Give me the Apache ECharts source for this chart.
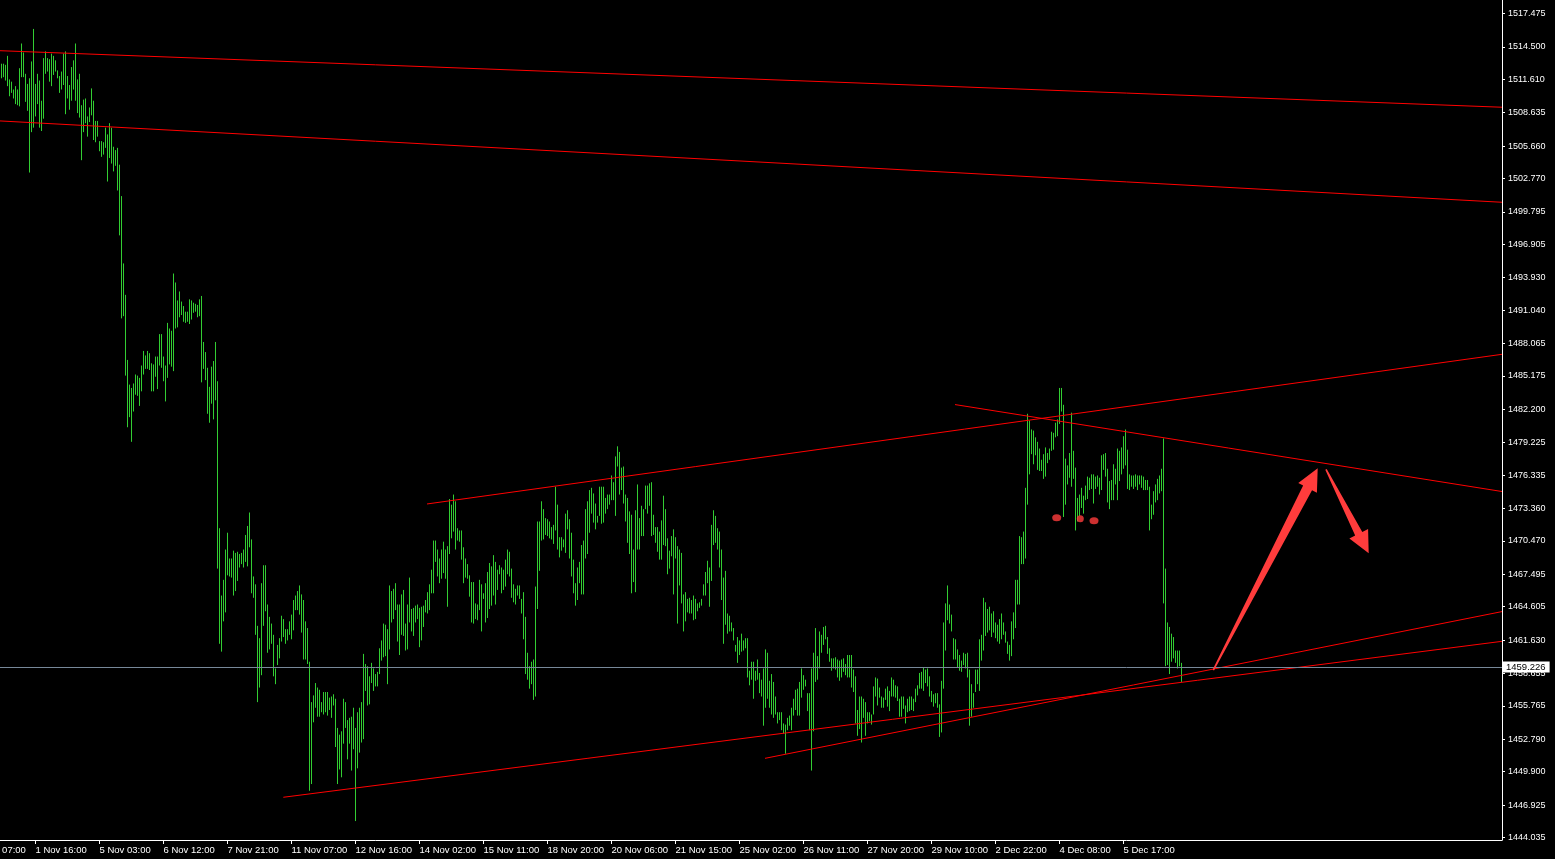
<!DOCTYPE html>
<html><head><meta charset="utf-8">
<style>html,body{margin:0;padding:0;background:#000;}#chart{width:1555px;height:859px;}</style>
<script src="https://cdn.jsdelivr.net/npm/echarts@6/dist/echarts.min.js"></script>
</head><body><div id="chart"></div>
<script>
// XAUUSD H1 bars: high / low per bar (bar index 0 = first visible bar)
const highs = [
1513.0,1513.0,1512.9,1513.7,1511.6,1511.4,1510.7,1511.0,1510.7,1512.6,
1514.8,1514.0,1512.1,1511.2,1511.7,1513.2,1516.1,1511.2,1512.1,1511.5,
1509.7,1513.5,1514.1,1513.5,1513.4,1513.9,1513.7,1513.3,1512.4,1511.9,
1512.3,1513.9,1514.1,1511.9,1511.1,1512.7,1513.3,1514.8,1511.6,1512.1,
1509.3,1509.8,1509.9,1508.3,1509.1,1510.8,1509.7,1507.9,1507.9,1506.1,
1506.1,1506.0,1507.3,1506.7,1507.7,1507.3,1505.6,1505.3,1505.5,1504.0,
1501.2,1495.2,1492.4,1486.6,1484.4,1484.1,1484.5,1485.3,1485.2,1485.0,
1486.1,1487.4,1487.0,1487.4,1487.2,1486.3,1486.2,1486.9,1486.9,1488.9,
1488.9,1486.9,1486.1,1489.9,1489.4,1489.2,1494.3,1493.5,1491.9,1492.7,
1491.8,1491.4,1490.9,1490.9,1492.0,1491.9,1491.7,1491.6,1491.5,1492.0,
1492.3,1488.2,1487.3,1485.9,1484.2,1486.0,1486.5,1488.2,1484.7,1471.6,
1465.6,1467.0,1469.7,1471.2,1468.9,1468.9,1469.6,1469.4,1469.5,1469.3,
1469.4,1469.7,1471.0,1471.8,1473.0,1470.6,1467.3,1466.6,1462.9,1461.8,
1466.7,1468.3,1468.3,1464.8,1463.7,1463.1,1462.1,1459.1,1461.2,1461.8,
1463.8,1463.5,1462.6,1462.6,1463.3,1463.9,1465.2,1465.6,1466.0,1466.5,
1465.7,1465.2,1463.3,1462.7,1459.7,1456.1,1456.7,1457.8,1457.4,1457.2,
1456.1,1457.0,1457.0,1457.0,1456.5,1456.6,1456.8,1456.4,1453.8,1453.2,
1453.5,1456.4,1456.1,1454.5,1454.7,1454.8,1455.6,1453.8,1455.2,1455.6,
1456.1,1460.4,1459.5,1459.3,1458.4,1459.6,1459.1,1458.6,1458.8,1460.9,
1461.6,1463.1,1463.0,1462.6,1466.5,1466.0,1466.2,1466.7,1464.8,1464.8,
1465.7,1466.1,1463.1,1464.8,1467.2,1464.4,1464.5,1464.7,1464.8,1464.5,
1464.6,1464.7,1465.2,1465.9,1466.6,1467.9,1470.5,1470.5,1469.7,1468.9,
1469.7,1470.4,1469.7,1470.0,1474.2,1473.7,1474.6,1474.0,1471.6,1471.4,
1471.4,1469.9,1468.9,1468.4,1467.4,1466.8,1466.8,1464.9,1464.8,1467.0,
1466.6,1465.8,1466.7,1467.7,1468.5,1468.2,1469.2,1468.6,1467.9,1468.3,
1468.1,1467.9,1468.8,1469.7,1469.5,1468.0,1466.6,1466.2,1466.5,1466.5,
1465.3,1465.9,1463.7,1460.5,1459.3,1459.7,1459.9,1466.4,1472.2,1472.2,
1474.0,1473.3,1472.5,1472.4,1472.2,1471.7,1471.9,1475.3,1473.7,1470.8,
1470.8,1470.6,1472.9,1473.2,1472.4,1471.2,1468.8,1466.7,1468.1,1468.6,
1470.1,1470.5,1473.3,1474.0,1475.0,1475.2,1474.7,1473.8,1472.7,1475.3,
1475.3,1475.3,1474.3,1474.6,1474.6,1476.3,1475.7,1478.0,1478.9,1478.4,
1477.0,1477.1,1474.6,1474.3,1473.1,1472.8,1469.7,1473.2,1475.5,1472.5,
1473.6,1473.3,1475.4,1475.4,1475.6,1475.7,1472.8,1471.7,1471.7,1471.3,
1472.3,1474.5,1473.3,1470.7,1469.6,1470.9,1471.5,1470.8,1470.0,1469.7,
1469.4,1465.7,1465.9,1465.3,1465.4,1465.2,1465.6,1465.3,1464.9,1465.0,
1465.3,1466.6,1467.7,1468.7,1468.1,1471.9,1473.2,1472.7,1471.6,1471.3,
1469.7,1467.2,1467.8,1464.0,1463.8,1463.2,1462.7,1461.2,1461.9,1461.6,
1462.2,1461.6,1461.8,1461.8,1458.9,1459.7,1459.7,1458.9,1459.9,1458.7,
1458.1,1459.1,1460.8,1460.5,1458.0,1458.6,1457.9,1456.6,1455.2,1455.2,
1455.2,1454.2,1454.1,1454.7,1454.9,1455.6,1456.4,1457.2,1457.3,1457.9,
1459.1,1458.5,1458.1,1456.9,1456.9,1459.1,1460.5,1462.7,1460.2,1462.4,
1462.1,1462.8,1462.9,1461.9,1460.9,1460.0,1460.0,1460.1,1459.9,1459.8,
1459.9,1460.0,1459.5,1460.3,1460.3,1460.3,1459.0,1458.4,1455.4,1456.6,
1456.6,1456.4,1456.1,1455.2,1455.2,1455.0,1457.5,1458.3,1458.2,1457.4,
1456.6,1456.5,1457.3,1457.5,1457.1,1458.3,1458.1,1457.6,1457.5,1456.4,
1456.6,1456.6,1455.8,1456.4,1456.6,1456.6,1456.4,1457.3,1457.6,1458.7,
1458.8,1459.2,1459.0,1459.1,1458.4,1457.1,1456.8,1456.9,1456.9,1455.9,
1458.0,1463.2,1464.9,1466.5,1464.8,1463.9,1461.8,1461.7,1460.8,1460.3,
1459.8,1460.5,1460.4,1460.5,1459.0,1457.7,1456.9,1459.0,1459.0,1461.7,
1462.1,1465.4,1465.0,1464.4,1464.6,1464.0,1464.2,1463.2,1463.0,1463.5,
1464.0,1463.2,1462.4,1461.5,1461.2,1463.3,1464.1,1467.0,1467.0,1470.9,
1470.8,1471.3,1475.2,1481.8,1481.2,1480.4,1480.3,1479.7,1479.3,1478.7,
1477.7,1478.2,1478.8,1478.3,1478.7,1480.2,1480.1,1481.0,1481.3,1484.1,
1484.1,1482.6,1477.8,1477.2,1478.3,1481.9,1478.5,1477.0,1474.3,1474.6,
1475.2,1474.5,1475.4,1476.2,1476.1,1476.4,1476.4,1476.2,1476.3,1476.1,
1478.1,1478.2,1478.3,1476.9,1475.8,1475.9,1477.3,1476.9,1478.7,1478.5,
1478.8,1479.8,1480.4,1478.6,1476.4,1476.3,1476.3,1476.4,1476.3,1476.3,
1476.3,1476.2,1475.9,1475.9,1475.3,1473.7,1474.9,1475.5,1476.0,1476.3,
1476.9,1479.6,1468.0,1463.2,1462.8,1462.2,1461.9,1460.7,1460.7,1460.7,
1459.6
];
const lows = [
1511.7,1511.8,1511.5,1511.0,1510.1,1510.4,1509.9,1509.4,1509.3,1509.2,
1511.8,1511.8,1509.6,1508.8,1503.3,1506.9,1507.3,1508.3,1509.4,1507.3,
1507.0,1508.1,1512.1,1512.3,1511.4,1511.0,1512.0,1512.3,1511.7,1510.4,
1510.7,1511.1,1508.5,1509.9,1508.9,1509.7,1510.7,1509.7,1508.6,1508.2,
1504.4,1506.9,1507.7,1506.5,1507.8,1508.4,1506.2,1506.0,1506.5,1505.2,
1504.7,1504.9,1505.5,1502.5,1504.6,1504.1,1503.4,1503.9,1501.7,1497.7,
1490.3,1490.5,1485.2,1480.6,1481.5,1479.3,1482.0,1483.5,1483.4,1482.5,
1483.8,1485.3,1485.8,1485.8,1485.7,1483.8,1483.8,1485.1,1484.0,1486.1,
1485.9,1484.7,1482.9,1485.0,1486.2,1486.0,1485.6,1489.4,1489.5,1490.4,
1490.6,1490.0,1489.9,1490.0,1489.8,1490.2,1490.8,1490.9,1490.4,1490.5,
1484.6,1485.8,1484.8,1481.8,1481.0,1482.7,1481.3,1483.0,1468.0,1461.3,
1460.6,1463.3,1464.1,1467.4,1467.3,1467.2,1465.6,1466.0,1466.9,1468.1,
1468.4,1468.1,1468.6,1468.2,1469.9,1465.8,1465.4,1462.1,1456.1,1457.4,
1458.5,1462.9,1464.2,1460.5,1460.8,1461.3,1458.4,1457.7,1459.4,1460.0,
1461.5,1461.9,1461.3,1461.6,1462.1,1461.7,1462.5,1464.3,1464.3,1463.9,
1462.3,1459.9,1459.9,1459.5,1448.2,1448.8,1454.3,1455.6,1454.8,1454.8,
1455.2,1455.0,1455.2,1454.9,1455.4,1454.7,1455.8,1452.1,1448.8,1450.1,
1449.4,1452.4,1453.8,1451.0,1452.4,1450.0,1451.9,1445.5,1450.2,1451.6,
1452.5,1452.8,1457.1,1455.8,1455.9,1457.8,1457.1,1457.5,1457.5,1458.6,
1459.8,1460.1,1460.2,1457.7,1460.8,1463.2,1463.5,1464.3,1461.5,1460.3,
1462.1,1462.0,1460.7,1460.8,1463.2,1462.4,1462.0,1463.2,1463.5,1461.0,
1461.6,1462.8,1464.1,1464.0,1464.3,1465.8,1465.8,1468.6,1467.3,1466.7,
1467.1,1467.6,1467.1,1464.6,1469.3,1470.7,1471.3,1469.7,1470.5,1470.4,
1468.8,1466.7,1467.2,1467.1,1465.5,1463.2,1463.1,1463.5,1463.4,1464.3,
1462.4,1465.3,1463.2,1463.6,1464.4,1464.7,1465.6,1464.8,1466.1,1467.5,
1465.8,1466.1,1466.4,1467.5,1467.3,1465.4,1465.0,1464.8,1465.6,1465.3,
1464.0,1461.7,1458.6,1458.1,1457.3,1457.7,1456.3,1456.6,1464.4,1467.8,
1470.5,1470.6,1471.0,1470.9,1470.7,1470.6,1470.2,1471.4,1469.7,1469.0,
1469.6,1469.9,1469.4,1471.5,1468.9,1467.3,1465.8,1464.7,1465.2,1466.7,
1465.7,1465.7,1468.9,1469.3,1471.2,1472.9,1472.1,1471.5,1472.1,1472.7,
1472.0,1472.1,1472.9,1473.3,1473.7,1474.1,1474.1,1472.7,1477.1,1474.6,
1475.0,1473.8,1472.2,1470.3,1469.3,1465.8,1466.8,1465.9,1469.7,1469.7,
1470.9,1470.9,1473.3,1472.9,1473.6,1470.9,1471.0,1470.3,1469.5,1468.8,
1468.8,1470.1,1470.0,1467.5,1468.0,1469.1,1465.7,1468.9,1463.1,1466.5,
1464.9,1462.4,1463.3,1464.1,1464.0,1464.0,1463.4,1463.5,1464.2,1464.5,
1464.7,1465.6,1465.6,1466.7,1464.6,1466.9,1470.1,1470.3,1469.7,1468.1,
1465.2,1461.3,1463.0,1462.2,1462.4,1462.4,1461.6,1460.6,1459.6,1460.3,
1460.6,1460.7,1460.9,1458.3,1457.6,1458.1,1456.4,1458.0,1458.1,1456.9,
1456.6,1454.0,1455.6,1456.4,1455.6,1455.0,1454.7,1455.0,1454.2,1454.5,
1453.6,1453.3,1451.5,1453.6,1454.0,1453.6,1454.9,1455.4,1454.9,1454.9,
1456.5,1457.2,1457.5,1455.3,1453.6,1450.0,1453.5,1457.9,1458.1,1459.1,
1460.5,1461.2,1461.7,1460.4,1459.7,1458.9,1459.1,1459.0,1458.3,1458.0,
1458.3,1458.8,1458.5,1458.3,1458.3,1457.4,1457.0,1454.2,1453.1,1453.7,
1452.5,1454.7,1453.1,1454.2,1454.4,1454.1,1455.0,1456.6,1455.8,1456.5,
1455.6,1455.6,1456.3,1455.7,1455.3,1456.6,1456.6,1456.5,1456.2,1454.8,
1454.8,1455.5,1454.2,1455.2,1455.3,1455.4,1455.3,1456.1,1456.7,1457.3,
1457.3,1457.1,1457.8,1457.5,1456.6,1456.1,1455.7,1456.0,1455.6,1453.0,
1453.4,1457.3,1460.7,1463.4,1463.1,1462.4,1459.9,1459.9,1459.2,1458.9,
1458.8,1459.4,1459.1,1458.3,1454.0,1454.8,1455.6,1457.0,1457.7,1457.1,
1459.8,1460.7,1462.0,1462.3,1462.5,1461.9,1462.3,1461.8,1461.5,1461.3,
1461.7,1462.1,1461.4,1460.4,1459.8,1460.2,1461.7,1462.7,1464.8,1464.8,
1468.4,1468.4,1468.9,1473.7,1476.4,1478.2,1477.3,1478.1,1476.8,1476.7,
1476.7,1476.0,1476.2,1477.4,1477.7,1478.5,1478.6,1479.7,1479.8,1480.9,
1482.0,1472.6,1473.7,1475.5,1476.1,1475.3,1476.0,1471.4,1472.2,1472.7,
1473.4,1472.9,1474.1,1474.2,1475.0,1475.1,1473.8,1475.1,1475.3,1474.6,
1475.0,1476.8,1476.2,1473.9,1473.3,1474.1,1474.1,1475.5,1474.1,1475.8,
1476.4,1476.9,1477.2,1475.1,1475.0,1475.3,1475.1,1475.3,1475.0,1475.5,
1475.2,1475.0,1475.0,1475.0,1471.4,1472.4,1472.8,1473.9,1474.1,1474.7,
1474.9,1464.9,1459.3,1459.4,1458.6,1459.7,1460.0,1459.6,1459.1,1459.3,
1457.9
];

// price scale tick labels (right axis)
const priceTicks = [1517.475,1514.500,1511.610,1508.635,1505.660,1502.770,1499.795,1496.905,1493.930,1491.040,
  1488.065,1485.175,1482.200,1479.225,1476.335,1473.360,1470.470,1467.495,1464.605,1461.630,
  1458.655,1455.765,1452.790,1449.900,1446.925,1444.035];

// time scale tick labels (bar index -> label)
const timeTickBars = [17,49,81,113,145,177,209,241,273,305,337,369,401,433,465,497,529,561];
const timeLabels = ['1 Nov 16:00','5 Nov 03:00','6 Nov 12:00','7 Nov 21:00','11 Nov 07:00','12 Nov 16:00',
  '14 Nov 02:00','15 Nov 11:00','18 Nov 20:00','20 Nov 06:00','21 Nov 15:00','25 Nov 02:00',
  '26 Nov 11:00','27 Nov 20:00','29 Nov 10:00','2 Dec 22:00','4 Dec 08:00','5 Dec 17:00'];
const firstTimeBar = -15;
const firstTimeLabel = '31 Oct 07:00';

const bidPrice = 1459.226;

// trend lines: [[bar, price], [bar, price]]
const trendLines = [
  [[-0.75, 1514.16], [750.25, 1509.12]],
  [[-0.75, 1507.90], [750.25, 1500.65]],
  [[212.75, 1473.76], [750.25, 1487.10]],
  [[476.75, 1482.62], [750.25, 1474.87]],
  [[140.9, 1447.62], [750.25, 1461.52]],
  [[381.75, 1451.09], [750.25, 1464.17]]
];
// arrows: [tailBar, tailPrice, tipBar, tipPrice]
const arrows = [
  [605.9, 1458.96, 658.1, 1476.94],
  [662.25, 1476.85, 683.6, 1469.36]
];
// marker dots: [bar, price]
const dots = [[527.6, 1472.54], [539.4, 1472.45], [546.25, 1472.27]];

const xRange = [-0.75, 750.25];
const yRange = [1443.812, 1518.678];

const FONT = '"Liberation Sans", Arial, sans-serif';
const BAR_COLOR = '#32cd32';
const RED = '#ff0000';
const MARK_RED = '#ff3c3c';

const chart = echarts.init(document.getElementById('chart'), null, {renderer: 'canvas'});

const barData = highs.map((h, i) => [i, h, lows[i]]);

const series = [];
series.push({
  type: 'custom',
  name: 'bars',
  z: 2,
  silent: true,
  data: barData,
  encode: {x: 0, y: [1, 2]},
  renderItem: function (params, api) {
    const x = api.value(0);
    const p1 = api.coord([x, api.value(1)]);
    const p2 = api.coord([x, api.value(2)]);
    let y1 = p1[1], y2 = p2[1];
    if (y2 - y1 < 1) { y2 = y1 + 1; }
    return {type: 'line', shape: {x1: p1[0], y1: y1, x2: p2[0], y2: y2},
      style: {stroke: BAR_COLOR, lineWidth: 1}};
  }
});

trendLines.forEach((seg, idx) => {
  const s = {
    type: 'line', z: 4, silent: true, symbol: 'none', clip: true,
    data: seg, lineStyle: {color: RED, width: 1}
  };
  if (idx === 0) {
    s.markLine = {
      silent: true, symbol: 'none', animation: false,
      lineStyle: {color: '#778899', width: 1, type: 'solid'},
      data: [{yAxis: bidPrice}],
      label: {
        show: true, position: 'end', distance: 1,
        formatter: bidPrice.toFixed(3),
        backgroundColor: '#ffffff', color: '#000000',
        padding: [1, 4, 0, 3], fontSize: 9.5, fontFamily: FONT
      }
    };
  }
  series.push(s);
});

series.push({
  type: 'custom', name: 'arrows', z: 5, silent: true,
  data: arrows,
  encode: {x: [0, 2], y: [1, 3]},
  renderItem: function (params, api) {
    const t = api.coord([api.value(0), api.value(1)]);
    const p = api.coord([api.value(2), api.value(3)]);
    const dx = p[0] - t[0], dy = p[1] - t[1];
    const len = Math.hypot(dx, dy);
    const ux = dx / len, uy = dy / len, nx = -uy, ny = ux;
    const L = 22, H = 10.5, w0 = 0.8;
    const w1 = params.dataIndex === 0 ? 5 : 4;
    const bx = p[0] - ux * L, by = p[1] - uy * L;
    const pts = [
      [t[0] + nx * w0, t[1] + ny * w0],
      [bx + nx * w1, by + ny * w1],
      [bx + nx * H, by + ny * H],
      [p[0], p[1]],
      [bx - nx * H, by - ny * H],
      [bx - nx * w1, by - ny * w1],
      [t[0] - nx * w0, t[1] - ny * w0]
    ];
    return {type: 'polygon', shape: {points: pts}, style: {fill: MARK_RED}};
  }
});

series.push({
  type: 'scatter', z: 5, silent: true,
  data: dots,
  symbol: 'circle',
  symbolSize: function (val, params) { return params.dataIndex === 1 ? [7, 7] : [9, 7]; },
  itemStyle: {color: MARK_RED}
});

const option = {
  backgroundColor: '#000000',
  animation: false,
  grid: {left: 0, top: 0, width: 1502, height: 840, containLabel: false},
  xAxis: {
    type: 'value', min: xRange[0], max: xRange[1],
    axisLine: {show: true, onZero: false, lineStyle: {color: '#ffffff', width: 1}},
    axisTick: {show: true, length: 4, customValues: timeTickBars, lineStyle: {color: '#ffffff'}},
    axisLabel: {
      show: true, customValues: timeTickBars, align: 'left', margin: 5,
      color: '#ffffff', fontSize: 9.5, fontFamily: FONT,
      formatter: function (v) { const i = timeTickBars.indexOf(v); return i >= 0 ? timeLabels[i] : ''; }
    },
    splitLine: {show: false}
  },
  yAxis: {
    type: 'value', position: 'right', min: yRange[0], max: yRange[1], scale: true,
    axisLine: {show: true, onZero: false, lineStyle: {color: '#ffffff', width: 1}},
    axisTick: {show: true, inside: false, length: 3, customValues: priceTicks, lineStyle: {color: '#ffffff'}},
    axisLabel: {
      show: true, customValues: priceTicks, margin: 6, color: '#ffffff',
      fontSize: 9, fontFamily: FONT,
      formatter: function (v) { return Number(v).toFixed(3); }
    },
    splitLine: {show: false}
  },
  series: series
};
chart.setOption(option);

const fx = chart.convertToPixel({xAxisIndex: 0}, firstTimeBar);
chart.setOption({
  graphic: [{
    type: 'text', x: fx, y: 845, silent: true,
    style: {text: firstTimeLabel, fill: '#ffffff', font: '9.5px ' + FONT,
      textAlign: 'left', textVerticalAlign: 'top', align: 'left', verticalAlign: 'top'}
  }]
});
</script>
</body></html>
